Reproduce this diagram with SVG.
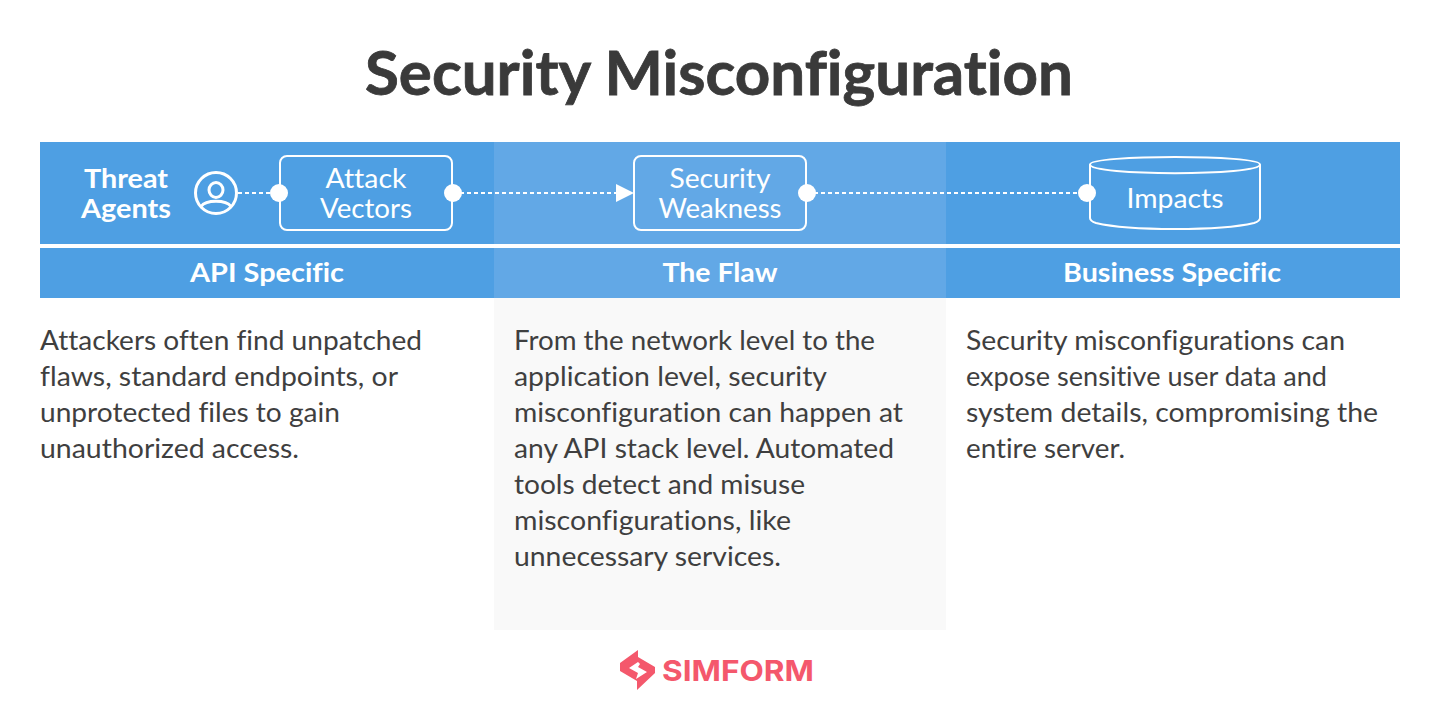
<svg xmlns="http://www.w3.org/2000/svg" width="1440" height="710" viewBox="0 0 1440 710">
<style>
text{font-family:"Lato","Noto Sans","Liberation Sans",sans-serif;font-variant-ligatures:none}
.title{font-size:62px;font-weight:700;fill:#3a3a3a;stroke:#3a3a3a;stroke-width:.8px;text-anchor:middle}
.hd{font-size:26px;font-weight:700;fill:#fff;text-anchor:middle}
.lb{font-size:27px;font-weight:400;fill:#fff;text-anchor:middle}
.tb{font-size:27px;font-weight:700;fill:#fff;text-anchor:middle}
.body{font-size:27px;font-weight:400;fill:#3f3f3f}
.band{fill:#4e9fe3}.mid{fill:#62a8e6}
.box{fill:none;stroke:#fff;stroke-width:2}
.dash{fill:none;stroke:#fff;stroke-width:2;stroke-dasharray:4 3}
.dot{fill:#fff}
</style>
<rect width="1440" height="710" fill="#fff"/>
<text class="title" x="719" y="95" textLength="708" lengthAdjust="spacingAndGlyphs">Security Misconfiguration</text>
<rect x="494" y="298" width="452" height="332" fill="#f9f9f9"/>
<rect class="band" x="40" y="142" width="1360" height="102"/>
<rect class="band" x="40" y="248" width="1360" height="50"/>
<rect class="mid" x="494" y="142" width="452" height="102"/>
<rect class="mid" x="494" y="248" width="452" height="50"/>
<g id="connectors">
<path class="dash" d="M238 193H279"/>
<path class="dash" d="M453 193H616"/>
<path class="dash" d="M807 193H1087"/>
<polygon class="dot" points="616,184 634,193 616,202"/>
</g>
<g id="threat-agents">
<text class="tb" x="126" y="188" textLength="84" lengthAdjust="spacingAndGlyphs">Threat</text>
<text class="tb" x="126" y="218" textLength="90" lengthAdjust="spacingAndGlyphs">Agents</text>
<circle cx="216" cy="193" r="20.5" fill="none" stroke="#fff" stroke-width="3"/>
<ellipse cx="216" cy="190" rx="7" ry="7.500" fill="none" stroke="#fff" stroke-width="3"/>
<path d="M201 206.500C206 199.500 226 199.500 231 206.500" fill="none" stroke="#fff" stroke-width="3"/>
</g>
<g id="attack-vectors">
<rect class="box" x="280" y="156" width="172" height="74" rx="7"/>
<circle class="dot" cx="279" cy="193" r="9"/>
<circle class="dot" cx="453" cy="193" r="9"/>
<text class="lb" x="366" y="188" textLength="81" lengthAdjust="spacingAndGlyphs">Attack</text>
<text class="lb" x="366" y="218" textLength="92" lengthAdjust="spacingAndGlyphs">Vectors</text>
</g>
<g id="security-weakness">
<rect class="box" x="634" y="156" width="172" height="74" rx="7"/>
<circle class="dot" cx="807" cy="193" r="9"/>
<text class="lb" x="720" y="188" textLength="101" lengthAdjust="spacingAndGlyphs">Security</text>
<text class="lb" x="720" y="218" textLength="123" lengthAdjust="spacingAndGlyphs">Weakness</text>
</g>
<g id="impacts">
<path class="box" d="M1090 164.500C1090 154.500 1260 154.500 1260 164.500C1260 176 1090 176 1090 164.500V218Q1090 221 1096 223C1130 231 1220 231 1254 223Q1260 221 1260 218V164.500"/>
<circle class="dot" cx="1087" cy="193" r="9"/>
<text class="lb" x="1175" y="208" textLength="97" lengthAdjust="spacingAndGlyphs">Impacts</text>
</g>
<g id="headers">
<text class="hd" x="267" y="282" textLength="154" lengthAdjust="spacingAndGlyphs">API Specific</text>
<text class="hd" x="720" y="282" textLength="115" lengthAdjust="spacingAndGlyphs">The Flaw</text>
<text class="hd" x="1172" y="282" textLength="218" lengthAdjust="spacingAndGlyphs">Business Specific</text>
</g>
<g id="col1">
<text class="body" x="40" y="350" textLength="382" lengthAdjust="spacingAndGlyphs">Attackers often find unpatched</text>
<text class="body" x="40" y="386" textLength="358" lengthAdjust="spacingAndGlyphs">flaws, standard endpoints, or</text>
<text class="body" x="40" y="422" textLength="300" lengthAdjust="spacingAndGlyphs">unprotected files to gain</text>
<text class="body" x="40" y="458" textLength="259" lengthAdjust="spacingAndGlyphs">unauthorized access.</text>
</g>
<g id="col2">
<text class="body" x="514" y="350" textLength="361" lengthAdjust="spacingAndGlyphs">From the network level to the</text>
<text class="body" x="514" y="386" textLength="313" lengthAdjust="spacingAndGlyphs">application level, security</text>
<text class="body" x="514" y="422" textLength="389" lengthAdjust="spacingAndGlyphs">misconfiguration can happen at</text>
<text class="body" x="514" y="458" textLength="380" lengthAdjust="spacingAndGlyphs">any API stack level. Automated</text>
<text class="body" x="514" y="494" textLength="291" lengthAdjust="spacingAndGlyphs">tools detect and misuse</text>
<text class="body" x="514" y="530" textLength="277" lengthAdjust="spacingAndGlyphs">misconfigurations, like</text>
<text class="body" x="514" y="566" textLength="267" lengthAdjust="spacingAndGlyphs">unnecessary services.</text>
</g>
<g id="col3">
<text class="body" x="966" y="350" textLength="379" lengthAdjust="spacingAndGlyphs">Security misconfigurations can</text>
<text class="body" x="966" y="386" textLength="361" lengthAdjust="spacingAndGlyphs">expose sensitive user data and</text>
<text class="body" x="966" y="422" textLength="412" lengthAdjust="spacingAndGlyphs">system details, compromising the</text>
<text class="body" x="966" y="458" textLength="159" lengthAdjust="spacingAndGlyphs">entire server.</text>
</g>
<g id="simform-logo">
<polygon points="638,650 638,657 655,667 655,673 637,690 637,681 620,671 620,663" fill="#f4586c"/>
<polygon points="638,662 629,668 638,673 636,679 647,672 638,667 640,664" fill="#fff"/>
<text x="662" y="681" font-size="29" font-weight="700" fill="#f4586c" style="font-family:Inter,'Liberation Sans',sans-serif" textLength="152" lengthAdjust="spacingAndGlyphs">SIMFORM</text>
</g>
</svg>
